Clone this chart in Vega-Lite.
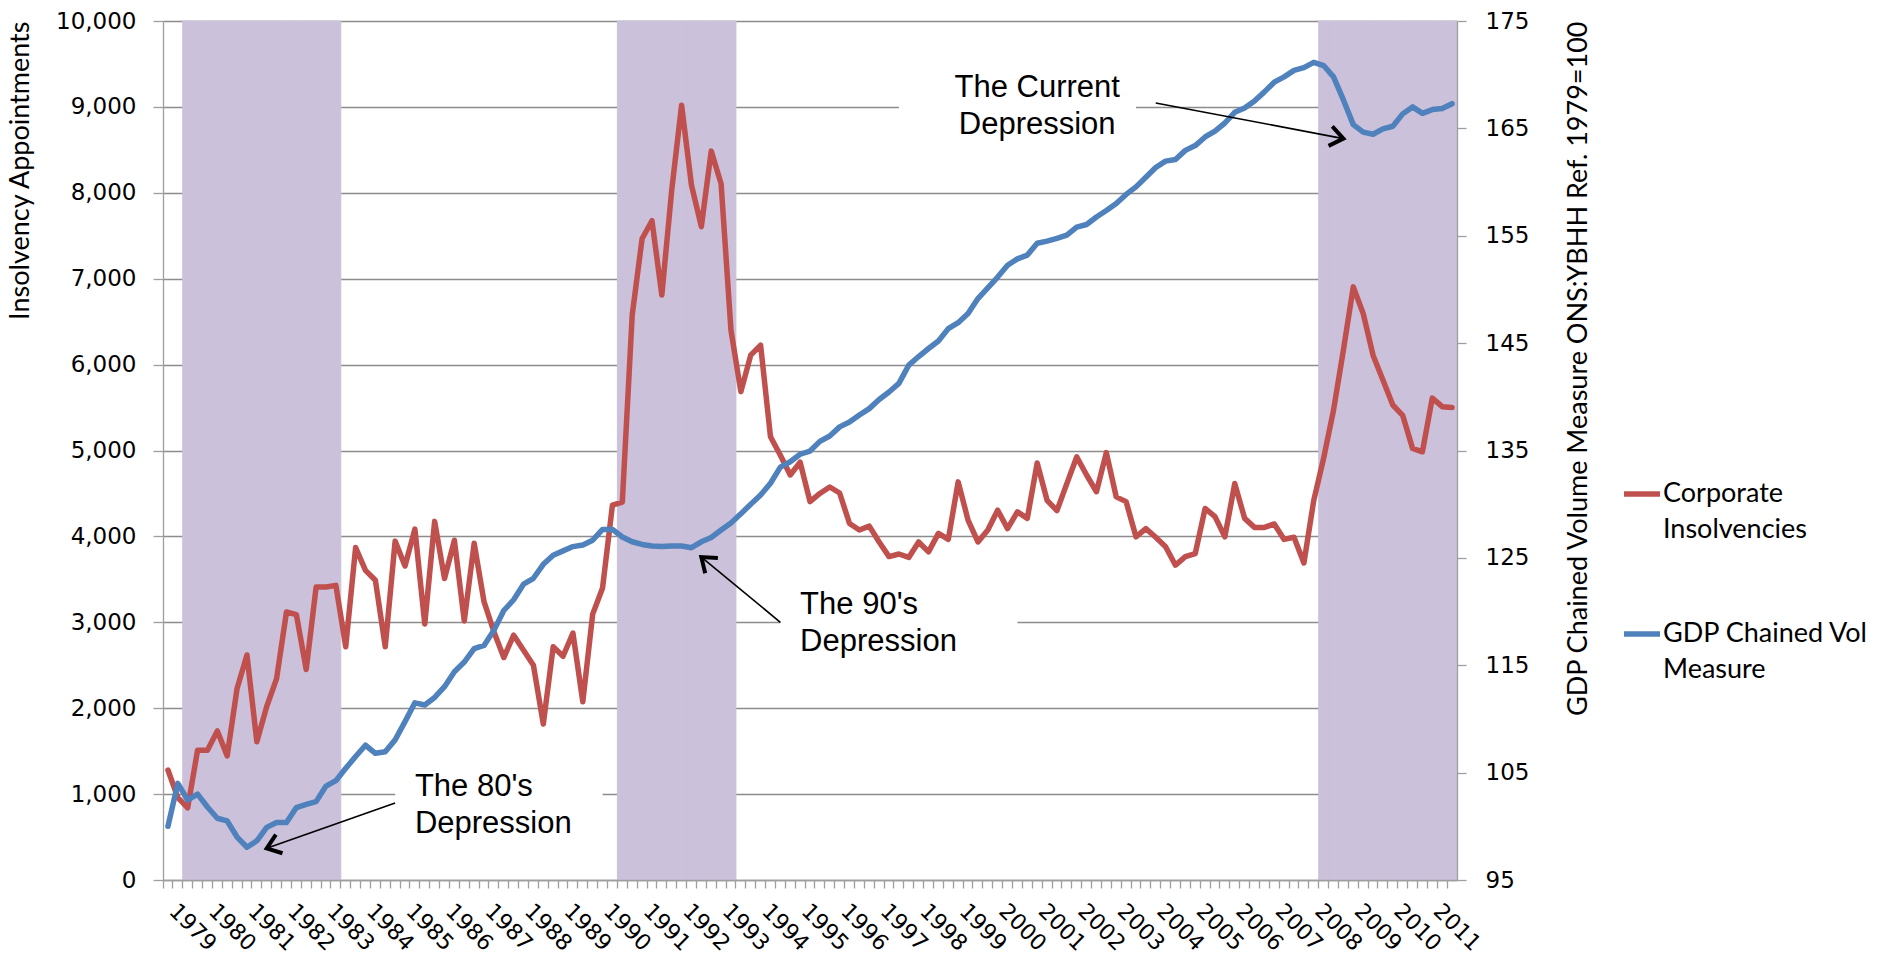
{
  "$schema": "https://vega.github.io/schema/vega-lite/v6.json",
  "width": 1294,
  "height": 859,
  "autosize": {"type": "none"},
  "padding": {"left": 163, "top": 21, "right": 430, "bottom": 75},
  "background": "white",
  "config": {
    "view": {"stroke": null},
    "font": "DejaVu Sans",
    "style": {"guide-label": {"lineHeight": 36}}
  },
  "datasets": {
    "series": [
      {"q":"1979Q1","ins":1280,"gdp":100.0,"rec":0},
      {"q":"1979Q2","ins":960,"gdp":104.0,"rec":0},
      {"q":"1979Q3","ins":840,"gdp":102.45,"rec":1},
      {"q":"1979Q4","ins":1510,"gdp":103.0,"rec":1},
      {"q":"1980Q1","ins":1510,"gdp":101.8,"rec":1},
      {"q":"1980Q2","ins":1735,"gdp":100.75,"rec":1},
      {"q":"1980Q3","ins":1445,"gdp":100.5,"rec":1},
      {"q":"1980Q4","ins":2230,"gdp":99.0,"rec":1},
      {"q":"1981Q1","ins":2620,"gdp":98.05,"rec":1},
      {"q":"1981Q2","ins":1610,"gdp":98.65,"rec":1},
      {"q":"1981Q3","ins":2020,"gdp":99.9,"rec":1},
      {"q":"1981Q4","ins":2345,"gdp":100.35,"rec":1},
      {"q":"1982Q1","ins":3120,"gdp":100.35,"rec":1},
      {"q":"1982Q2","ins":3090,"gdp":101.75,"rec":1},
      {"q":"1982Q3","ins":2450,"gdp":102.05,"rec":1},
      {"q":"1982Q4","ins":3410,"gdp":102.3,"rec":1},
      {"q":"1983Q1","ins":3410,"gdp":103.75,"rec":1},
      {"q":"1983Q2","ins":3430,"gdp":104.25,"rec":1},
      {"q":"1983Q3","ins":2715,"gdp":105.4,"rec":0},
      {"q":"1983Q4","ins":3870,"gdp":106.5,"rec":0},
      {"q":"1984Q1","ins":3605,"gdp":107.55,"rec":0},
      {"q":"1984Q2","ins":3490,"gdp":106.8,"rec":0},
      {"q":"1984Q3","ins":2715,"gdp":106.95,"rec":0},
      {"q":"1984Q4","ins":3945,"gdp":108.05,"rec":0},
      {"q":"1985Q1","ins":3655,"gdp":109.75,"rec":0},
      {"q":"1985Q2","ins":4085,"gdp":111.5,"rec":0},
      {"q":"1985Q3","ins":2980,"gdp":111.3,"rec":0},
      {"q":"1985Q4","ins":4175,"gdp":112.0,"rec":0},
      {"q":"1986Q1","ins":3510,"gdp":113.0,"rec":0},
      {"q":"1986Q2","ins":3955,"gdp":114.4,"rec":0},
      {"q":"1986Q3","ins":3015,"gdp":115.3,"rec":0},
      {"q":"1986Q4","ins":3920,"gdp":116.55,"rec":0},
      {"q":"1987Q1","ins":3240,"gdp":116.85,"rec":0},
      {"q":"1987Q2","ins":2890,"gdp":118.25,"rec":0},
      {"q":"1987Q3","ins":2590,"gdp":120.1,"rec":0},
      {"q":"1987Q4","ins":2850,"gdp":121.1,"rec":0},
      {"q":"1988Q1","ins":2675,"gdp":122.55,"rec":0},
      {"q":"1988Q2","ins":2500,"gdp":123.1,"rec":0},
      {"q":"1988Q3","ins":1815,"gdp":124.4,"rec":0},
      {"q":"1988Q4","ins":2715,"gdp":125.25,"rec":0},
      {"q":"1989Q1","ins":2605,"gdp":125.65,"rec":0},
      {"q":"1989Q2","ins":2875,"gdp":126.05,"rec":0},
      {"q":"1989Q3","ins":2075,"gdp":126.2,"rec":0},
      {"q":"1989Q4","ins":3095,"gdp":126.65,"rec":0},
      {"q":"1990Q1","ins":3400,"gdp":127.65,"rec":0},
      {"q":"1990Q2","ins":4365,"gdp":127.65,"rec":0},
      {"q":"1990Q3","ins":4400,"gdp":126.95,"rec":1},
      {"q":"1990Q4","ins":6575,"gdp":126.5,"rec":1},
      {"q":"1991Q1","ins":7465,"gdp":126.25,"rec":1},
      {"q":"1991Q2","ins":7675,"gdp":126.1,"rec":1},
      {"q":"1991Q3","ins":6810,"gdp":126.05,"rec":1},
      {"q":"1991Q4","ins":8030,"gdp":126.1,"rec":1},
      {"q":"1992Q1","ins":9020,"gdp":126.1,"rec":1},
      {"q":"1992Q2","ins":8090,"gdp":125.95,"rec":1},
      {"q":"1992Q3","ins":7605,"gdp":126.5,"rec":1},
      {"q":"1992Q4","ins":8485,"gdp":126.9,"rec":1},
      {"q":"1993Q1","ins":8105,"gdp":127.6,"rec":1},
      {"q":"1993Q2","ins":6400,"gdp":128.25,"rec":1},
      {"q":"1993Q3","ins":5685,"gdp":129.1,"rec":0},
      {"q":"1993Q4","ins":6110,"gdp":130.0,"rec":0},
      {"q":"1994Q1","ins":6225,"gdp":130.85,"rec":0},
      {"q":"1994Q2","ins":5160,"gdp":131.95,"rec":0},
      {"q":"1994Q3","ins":4945,"gdp":133.45,"rec":0},
      {"q":"1994Q4","ins":4715,"gdp":133.95,"rec":0},
      {"q":"1995Q1","ins":4865,"gdp":134.65,"rec":0},
      {"q":"1995Q2","ins":4405,"gdp":134.95,"rec":0},
      {"q":"1995Q3","ins":4500,"gdp":135.85,"rec":0},
      {"q":"1995Q4","ins":4575,"gdp":136.35,"rec":0},
      {"q":"1996Q1","ins":4505,"gdp":137.2,"rec":0},
      {"q":"1996Q2","ins":4150,"gdp":137.65,"rec":0},
      {"q":"1996Q3","ins":4075,"gdp":138.3,"rec":0},
      {"q":"1996Q4","ins":4120,"gdp":138.9,"rec":0},
      {"q":"1997Q1","ins":3935,"gdp":139.75,"rec":0},
      {"q":"1997Q2","ins":3765,"gdp":140.45,"rec":0},
      {"q":"1997Q3","ins":3795,"gdp":141.25,"rec":0},
      {"q":"1997Q4","ins":3755,"gdp":142.95,"rec":0},
      {"q":"1998Q1","ins":3935,"gdp":143.75,"rec":0},
      {"q":"1998Q2","ins":3820,"gdp":144.5,"rec":0},
      {"q":"1998Q3","ins":4035,"gdp":145.2,"rec":0},
      {"q":"1998Q4","ins":3965,"gdp":146.35,"rec":0},
      {"q":"1999Q1","ins":4635,"gdp":146.9,"rec":0},
      {"q":"1999Q2","ins":4190,"gdp":147.75,"rec":0},
      {"q":"1999Q3","ins":3935,"gdp":149.15,"rec":0},
      {"q":"1999Q4","ins":4075,"gdp":150.15,"rec":0},
      {"q":"2000Q1","ins":4305,"gdp":151.15,"rec":0},
      {"q":"2000Q2","ins":4090,"gdp":152.25,"rec":0},
      {"q":"2000Q3","ins":4285,"gdp":152.85,"rec":0},
      {"q":"2000Q4","ins":4210,"gdp":153.2,"rec":0},
      {"q":"2001Q1","ins":4855,"gdp":154.3,"rec":0},
      {"q":"2001Q2","ins":4420,"gdp":154.5,"rec":0},
      {"q":"2001Q3","ins":4300,"gdp":154.75,"rec":0},
      {"q":"2001Q4","ins":4615,"gdp":155.05,"rec":0},
      {"q":"2002Q1","ins":4925,"gdp":155.8,"rec":0},
      {"q":"2002Q2","ins":4715,"gdp":156.05,"rec":0},
      {"q":"2002Q3","ins":4520,"gdp":156.75,"rec":0},
      {"q":"2002Q4","ins":4975,"gdp":157.35,"rec":0},
      {"q":"2003Q1","ins":4460,"gdp":158.0,"rec":0},
      {"q":"2003Q2","ins":4405,"gdp":158.85,"rec":0},
      {"q":"2003Q3","ins":3995,"gdp":159.55,"rec":0},
      {"q":"2003Q4","ins":4090,"gdp":160.45,"rec":0},
      {"q":"2004Q1","ins":3990,"gdp":161.35,"rec":0},
      {"q":"2004Q2","ins":3880,"gdp":161.95,"rec":0},
      {"q":"2004Q3","ins":3665,"gdp":162.1,"rec":0},
      {"q":"2004Q4","ins":3765,"gdp":162.95,"rec":0},
      {"q":"2005Q1","ins":3800,"gdp":163.4,"rec":0},
      {"q":"2005Q2","ins":4325,"gdp":164.2,"rec":0},
      {"q":"2005Q3","ins":4230,"gdp":164.75,"rec":0},
      {"q":"2005Q4","ins":3995,"gdp":165.5,"rec":0},
      {"q":"2006Q1","ins":4615,"gdp":166.5,"rec":0},
      {"q":"2006Q2","ins":4210,"gdp":166.9,"rec":0},
      {"q":"2006Q3","ins":4105,"gdp":167.55,"rec":0},
      {"q":"2006Q4","ins":4105,"gdp":168.4,"rec":0},
      {"q":"2007Q1","ins":4145,"gdp":169.3,"rec":0},
      {"q":"2007Q2","ins":3965,"gdp":169.8,"rec":0},
      {"q":"2007Q3","ins":3990,"gdp":170.4,"rec":0},
      {"q":"2007Q4","ins":3690,"gdp":170.65,"rec":0},
      {"q":"2008Q1","ins":4420,"gdp":171.15,"rec":0},
      {"q":"2008Q2","ins":4910,"gdp":170.85,"rec":1},
      {"q":"2008Q3","ins":5470,"gdp":169.8,"rec":1},
      {"q":"2008Q4","ins":6170,"gdp":167.65,"rec":1},
      {"q":"2009Q1","ins":6905,"gdp":165.35,"rec":1},
      {"q":"2009Q2","ins":6595,"gdp":164.65,"rec":1},
      {"q":"2009Q3","ins":6110,"gdp":164.45,"rec":1},
      {"q":"2009Q4","ins":5820,"gdp":164.95,"rec":1},
      {"q":"2010Q1","ins":5530,"gdp":165.2,"rec":1},
      {"q":"2010Q2","ins":5410,"gdp":166.35,"rec":1},
      {"q":"2010Q3","ins":5025,"gdp":167.0,"rec":1},
      {"q":"2010Q4","ins":4985,"gdp":166.4,"rec":1},
      {"q":"2011Q1","ins":5610,"gdp":166.75,"rec":1},
      {"q":"2011Q2","ins":5510,"gdp":166.85,"rec":1},
      {"q":"2011Q3","ins":5500,"gdp":167.3,"rec":1}
    ],
    "boxes": [
      {"q":"1984Q4","q2":"1990Q1","v":400,"v2":1300},
      {"q":"1994Q3","q2":"2000Q3","v":2500,"v2":3490},
      {"q":"1997Q3","q2":"2003Q3","v":8650,"v2":9540}
    ],
    "labels": [
      {"n":"80s","q":"1985Q2","v":977,"t":"The 80's\nDepression"},
      {"n":"90s","q":"1995Q1","v":3096,"t":"The 90's\nDepression"},
      {"n":"cur","q":"2001Q1","v":9116,"t":"The Current\nDepression"}
    ],
    "arrows": [
      {"n":"80s","q":"1984Q4","v":896,"q2":"1981Q3","v2":369},
      {"n":"90s","q":"1994Q3","v":3000,"q2":"1992Q3","v2":3759},
      {"n":"cur","q":"2004Q1","v":9046,"q2":"2008Q4","v2":8631}
    ]
  },
  "data": {"name": "series"},
  "encoding": {
    "x": {
      "field": "q",
      "type": "ordinal",
      "scale": {"type": "band", "paddingInner": 0, "paddingOuter": 0},
      "axis": {
        "title": null,
        "zindex": 1,
        "bandPosition": 0,
        "labelExpr": "indexof(datum.value, 'Q1') > 0 ? substring(datum.value, 0, 4) : ''",
        "labelAngle": 45,
        "labelAlign": "left",
        "labelBaseline": "middle",
        "labelOffset": 5,
        "labelPadding": 19,
        "labelFont": "DejaVu Sans",
        "labelFontSize": 22,
        "labelColor": "#000000",
        "labelOverlap": false,
        "labelBound": false,
        "labelFlush": false,
        "tickSize": 8,
        "tickColor": "#9e9e9e",
        "tickWidth": 1.3,
        "domainColor": "#9e9e9e",
        "domainWidth": 1.3,
        "grid": false
      }
    }
  },
  "layer": [
    {
      "encoding": {
        "y": {
          "type": "quantitative",
          "scale": {"domain": [0, 10000]},
          "axis": {
            "orient": "left",
            "title": "Insolvency Appointments",
            "titleFont": "Lato",
            "titleFontSize": 27,
            "titleFontWeight": "normal",
            "titleColor": "#000000",
            "titleAnchor": "end",
            "titlePadding": 21,
            "values": [0,1000,2000,3000,4000,5000,6000,7000,8000,9000,10000],
            "format": ",.0f",
            "labelFont": "DejaVu Sans",
            "labelFontSize": 23,
            "labelColor": "#000000",
            "labelPadding": 17,
            "tickSize": 10,
            "tickColor": "#9e9e9e",
            "tickWidth": 1.3,
            "domainColor": "#9e9e9e",
            "domainWidth": 1.3,
            "grid": true,
            "gridColor": "#8c8c8c",
            "gridWidth": 1.3
          }
        }
      },
      "layer": [
        {
          "transform": [{"filter": "datum.rec == 1"}],
          "mark": {"type": "bar", "color": "#CBC1DA", "stroke": "#CBC1DA", "strokeWidth": 1},
          "encoding": {
            "y": {"datum": 10000, "type": "quantitative"}
          }
        },
        {
          "mark": {"type": "line", "strokeWidth": 5.5, "strokeJoin": "round", "strokeCap": "round"},
          "encoding": {
            "y": {"field": "ins", "type": "quantitative"},
            "color": {
              "datum": "Corporate Insolvencies",
              "type": "nominal",
              "scale": {"domain": ["Corporate Insolvencies", "GDP Chained Vol Measure"], "range": ["#C0504D", "#4F81BD"]},
              "legend": {
                "title": null,
                "orient": "none",
                "legendX": 1458,
                "legendY": 452,
                "padding": 0,
                "symbolType": "stroke",
                "symbolSize": 1296,
                "symbolStrokeWidth": 5.5,
                "labelFont": "Lato",
                "labelFontSize": 27,
                "labelColor": "#000000",
                "labelOffset": 0,
                "labelLimit": 400,
                "labelBaseline": "middle",
                "rowPadding": 70,
                "labelExpr": "datum.label == 'Corporate Insolvencies' ? ['Corporate', 'Insolvencies'] : ['GDP Chained Vol', 'Measure']"
              }
            }
          }
        }
      ]
    },
    {
      "layer": [
        {
          "mark": {"type": "line", "strokeWidth": 5.5, "strokeJoin": "round", "strokeCap": "round"},
          "encoding": {
            "y": {
              "field": "gdp",
              "type": "quantitative",
              "scale": {"domain": [95, 175]},
              "axis": {
                "orient": "right",
                "zindex": 1,
                "title": "GDP Chained Volume Measure ONS:YBHH Ref. 1979=100",
                "titleFont": "Lato",
                "titleFontSize": 27,
                "titleFontWeight": "normal",
                "titleColor": "#000000",
                "titleAngle": 270,
                "titleAnchor": "end",
                "titleBaseline": "top",
                "titlePadding": 37,
                "values": [95,105,115,125,135,145,155,165,175],
                "labelFont": "DejaVu Sans",
                "labelFontSize": 23,
                "labelColor": "#000000",
                "labelPadding": 19,
                "tickSize": 9,
                "tickColor": "#9e9e9e",
                "tickWidth": 1.3,
                "domainColor": "#9e9e9e",
                "domainWidth": 1.3,
                "grid": false
              }
            },
            "color": {
              "datum": "GDP Chained Vol Measure",
              "type": "nominal"
            }
          }
        }
      ]
    },
    {
      "layer": [
        {
          "data": {"name": "boxes"},
          "mark": {"type": "rect", "color": "#ffffff"},
          "encoding": {
            "x": {"field": "q", "type": "ordinal"},
            "x2": {"field": "q2"},
            "y": {"field": "v", "type": "quantitative", "scale": {"domain": [0, 10000]}, "axis": null},
            "y2": {"field": "v2"}
          }
        },
        {
          "data": {"name": "arrows"},
          "mark": {"type": "rule", "color": "#000000", "strokeWidth": 1.6},
          "encoding": {
            "x": {"field": "q", "type": "ordinal"},
            "x2": {"field": "q2"},
            "y": {"field": "v", "type": "quantitative", "scale": {"domain": [0, 10000]}, "axis": null},
            "y2": {"field": "v2"}
          }
        },
        {
          "data": {"name": "arrows"},
          "transform": [{"filter": "datum.n == '80s'"}],
          "mark": {"type": "point", "shape": "M-1,-0.75L0,0L-1,0.75", "filled": false, "stroke": "#000000", "strokeWidth": 4, "size": 700, "angle": 160.5, "opacity": 1},
          "encoding": {
            "x": {"field": "q2", "type": "ordinal"},
            "y": {"field": "v2", "type": "quantitative", "scale": {"domain": [0, 10000]}, "axis": null}
          }
        },
        {
          "data": {"name": "arrows"},
          "transform": [{"filter": "datum.n == '90s'"}],
          "mark": {"type": "point", "shape": "M-1,-0.75L0,0L-1,0.75", "filled": false, "stroke": "#000000", "strokeWidth": 4, "size": 700, "angle": 219.6, "opacity": 1},
          "encoding": {
            "x": {"field": "q2", "type": "ordinal"},
            "y": {"field": "v2", "type": "quantitative", "scale": {"domain": [0, 10000]}, "axis": null}
          }
        },
        {
          "data": {"name": "arrows"},
          "transform": [{"filter": "datum.n == 'cur'"}],
          "mark": {"type": "point", "shape": "M-1,-0.75L0,0L-1,0.75", "filled": false, "stroke": "#000000", "strokeWidth": 4, "size": 700, "angle": 10.8, "opacity": 1},
          "encoding": {
            "x": {"field": "q2", "type": "ordinal"},
            "y": {"field": "v2", "type": "quantitative", "scale": {"domain": [0, 10000]}, "axis": null}
          }
        },
        {
          "data": {"name": "labels"},
          "transform": [{"filter": "datum.n != 'cur'"}],
          "mark": {"type": "text", "align": "left", "baseline": "alphabetic", "lineBreak": "\n", "font": "Liberation Sans", "fontSize": 31, "lineHeight": 37, "color": "#000000"},
          "encoding": {
            "x": {"field": "q", "type": "ordinal"},
            "y": {"field": "v", "type": "quantitative", "scale": {"domain": [0, 10000]}, "axis": null},
            "text": {"field": "t"}
          }
        },
        {
          "data": {"name": "labels"},
          "transform": [{"filter": "datum.n == 'cur'"}],
          "mark": {"type": "text", "align": "center", "baseline": "alphabetic", "lineBreak": "\n", "font": "Liberation Sans", "fontSize": 31, "lineHeight": 37, "color": "#000000"},
          "encoding": {
            "x": {"field": "q", "type": "ordinal"},
            "y": {"field": "v", "type": "quantitative", "scale": {"domain": [0, 10000]}, "axis": null},
            "text": {"field": "t"}
          }
        }
      ]
    }
  ],
  "resolve": {"scale": {"y": "independent"}, "axis": {"y": "independent"}}
}
